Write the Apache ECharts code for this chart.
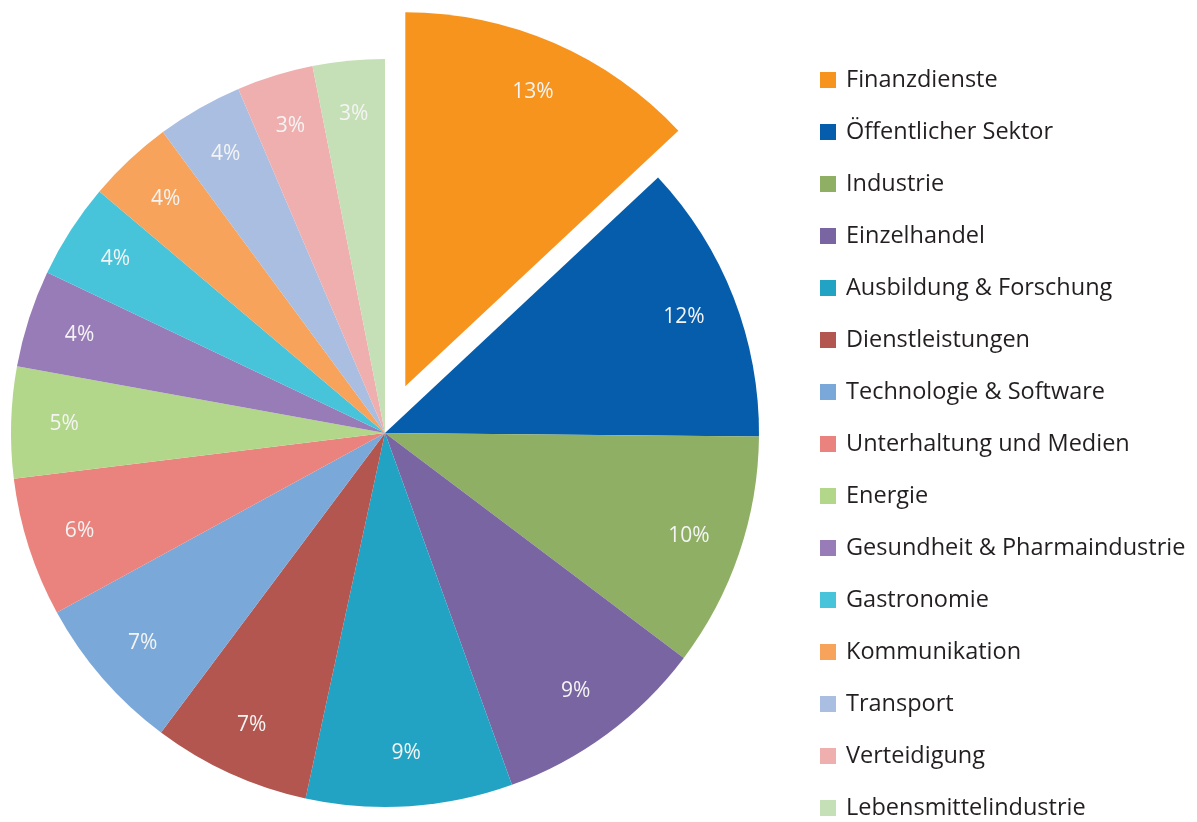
<!DOCTYPE html>
<html>
<head>
<meta charset="utf-8">
<title>Branchen</title>
<script src="https://cdn.jsdelivr.net/npm/echarts@6/dist/echarts.min.js"></script>
<style>
  html, body { margin: 0; padding: 0; background: #fff; }
  #chart { width: 1197px; height: 822px; }
</style>
</head>
<body>
<div id="chart"></div>
<script>
// Branchen und Anteile (in %), im Uhrzeigersinn ab 12 Uhr
const categories = [
    'Finanzdienste', 'Öffentlicher Sektor', 'Industrie', 'Einzelhandel',
    'Ausbildung & Forschung', 'Dienstleistungen', 'Technologie & Software',
    'Unterhaltung und Medien', 'Energie', 'Gesundheit & Pharmaindustrie',
    'Gastronomie', 'Kommunikation', 'Transport', 'Verteidigung',
    'Lebensmittelindustrie'
];
const shares = [13.0, 12.1, 10.1, 9.2, 8.9, 6.8, 6.8, 6.0, 4.8, 4.2, 4.1, 3.7, 3.7, 3.3, 3.1];
const colors = [
    '#F7941E', '#055DAB', '#8FAF65', '#7965A1', '#23A3C4', '#B3564F', '#7AA8D8',
    '#EA837D', '#B2D68A', '#977CB8', '#47C4DA', '#F7A35B', '#A9BEE0', '#EFAFAF',
    '#C5DFB6'
];

const chart = echarts.init(document.getElementById('chart'), null, { renderer: 'canvas' });

const center = [385, 433];
const radius = 374;
const offset = 51;

const slices = categories.map((name, i) => ({
    name: name,
    value: shares[i],
    selected: i === 0,
    itemStyle: { color: colors[i] }
}));

// zweite, unsichtbare Reihe nur für die Prozent-Beschriftung nahe am Rand
const labelRing = categories.map((name, i) => ({
    name: name,
    value: shares[i],
    selected: i === 0
}));

chart.setOption({
    animation: false,
    backgroundColor: '#fff',
    legend: {
        orient: 'vertical',
        left: 820,
        top: 68,
        height: 790,
        padding: 0,
        itemWidth: 16,
        itemHeight: 16,
        itemGap: 28,
        icon: 'rect',
        selectedMode: false,
        data: categories,
        textStyle: {
            fontFamily: 'Open Sans',
            fontSize: 23.5,
            lineHeight: 23,
            padding: [0, 0, 0, 5],
            color: '#231F20'
        }
    },
    series: [
        {
            type: 'pie',
            center: center,
            radius: radius,
            startAngle: 90,
            clockwise: true,
            selectedMode: 'single',
            selectedOffset: offset,
            silent: true,
            label: { show: false },
            labelLine: { show: false },
            emphasis: { disabled: true },
            itemStyle: { borderWidth: 0 },
            data: slices
        },
        {
            type: 'pie',
            center: center,
            radius: [radius * 0.7, radius],
            startAngle: 90,
            clockwise: true,
            selectedMode: 'single',
            selectedOffset: offset,
            silent: true,
            itemStyle: { color: 'rgba(0,0,0,0)', borderWidth: 0 },
            emphasis: { disabled: true },
            labelLine: { show: false },
            label: {
                show: true,
                position: 'inside',
                formatter: p => Math.round(p.value) + '%',
                fontFamily: 'Open Sans',
                fontSize: 21,
                color: '#F4F4F4'
            },
            data: labelRing
        }
    ]
});
</script>
</body>
</html>
